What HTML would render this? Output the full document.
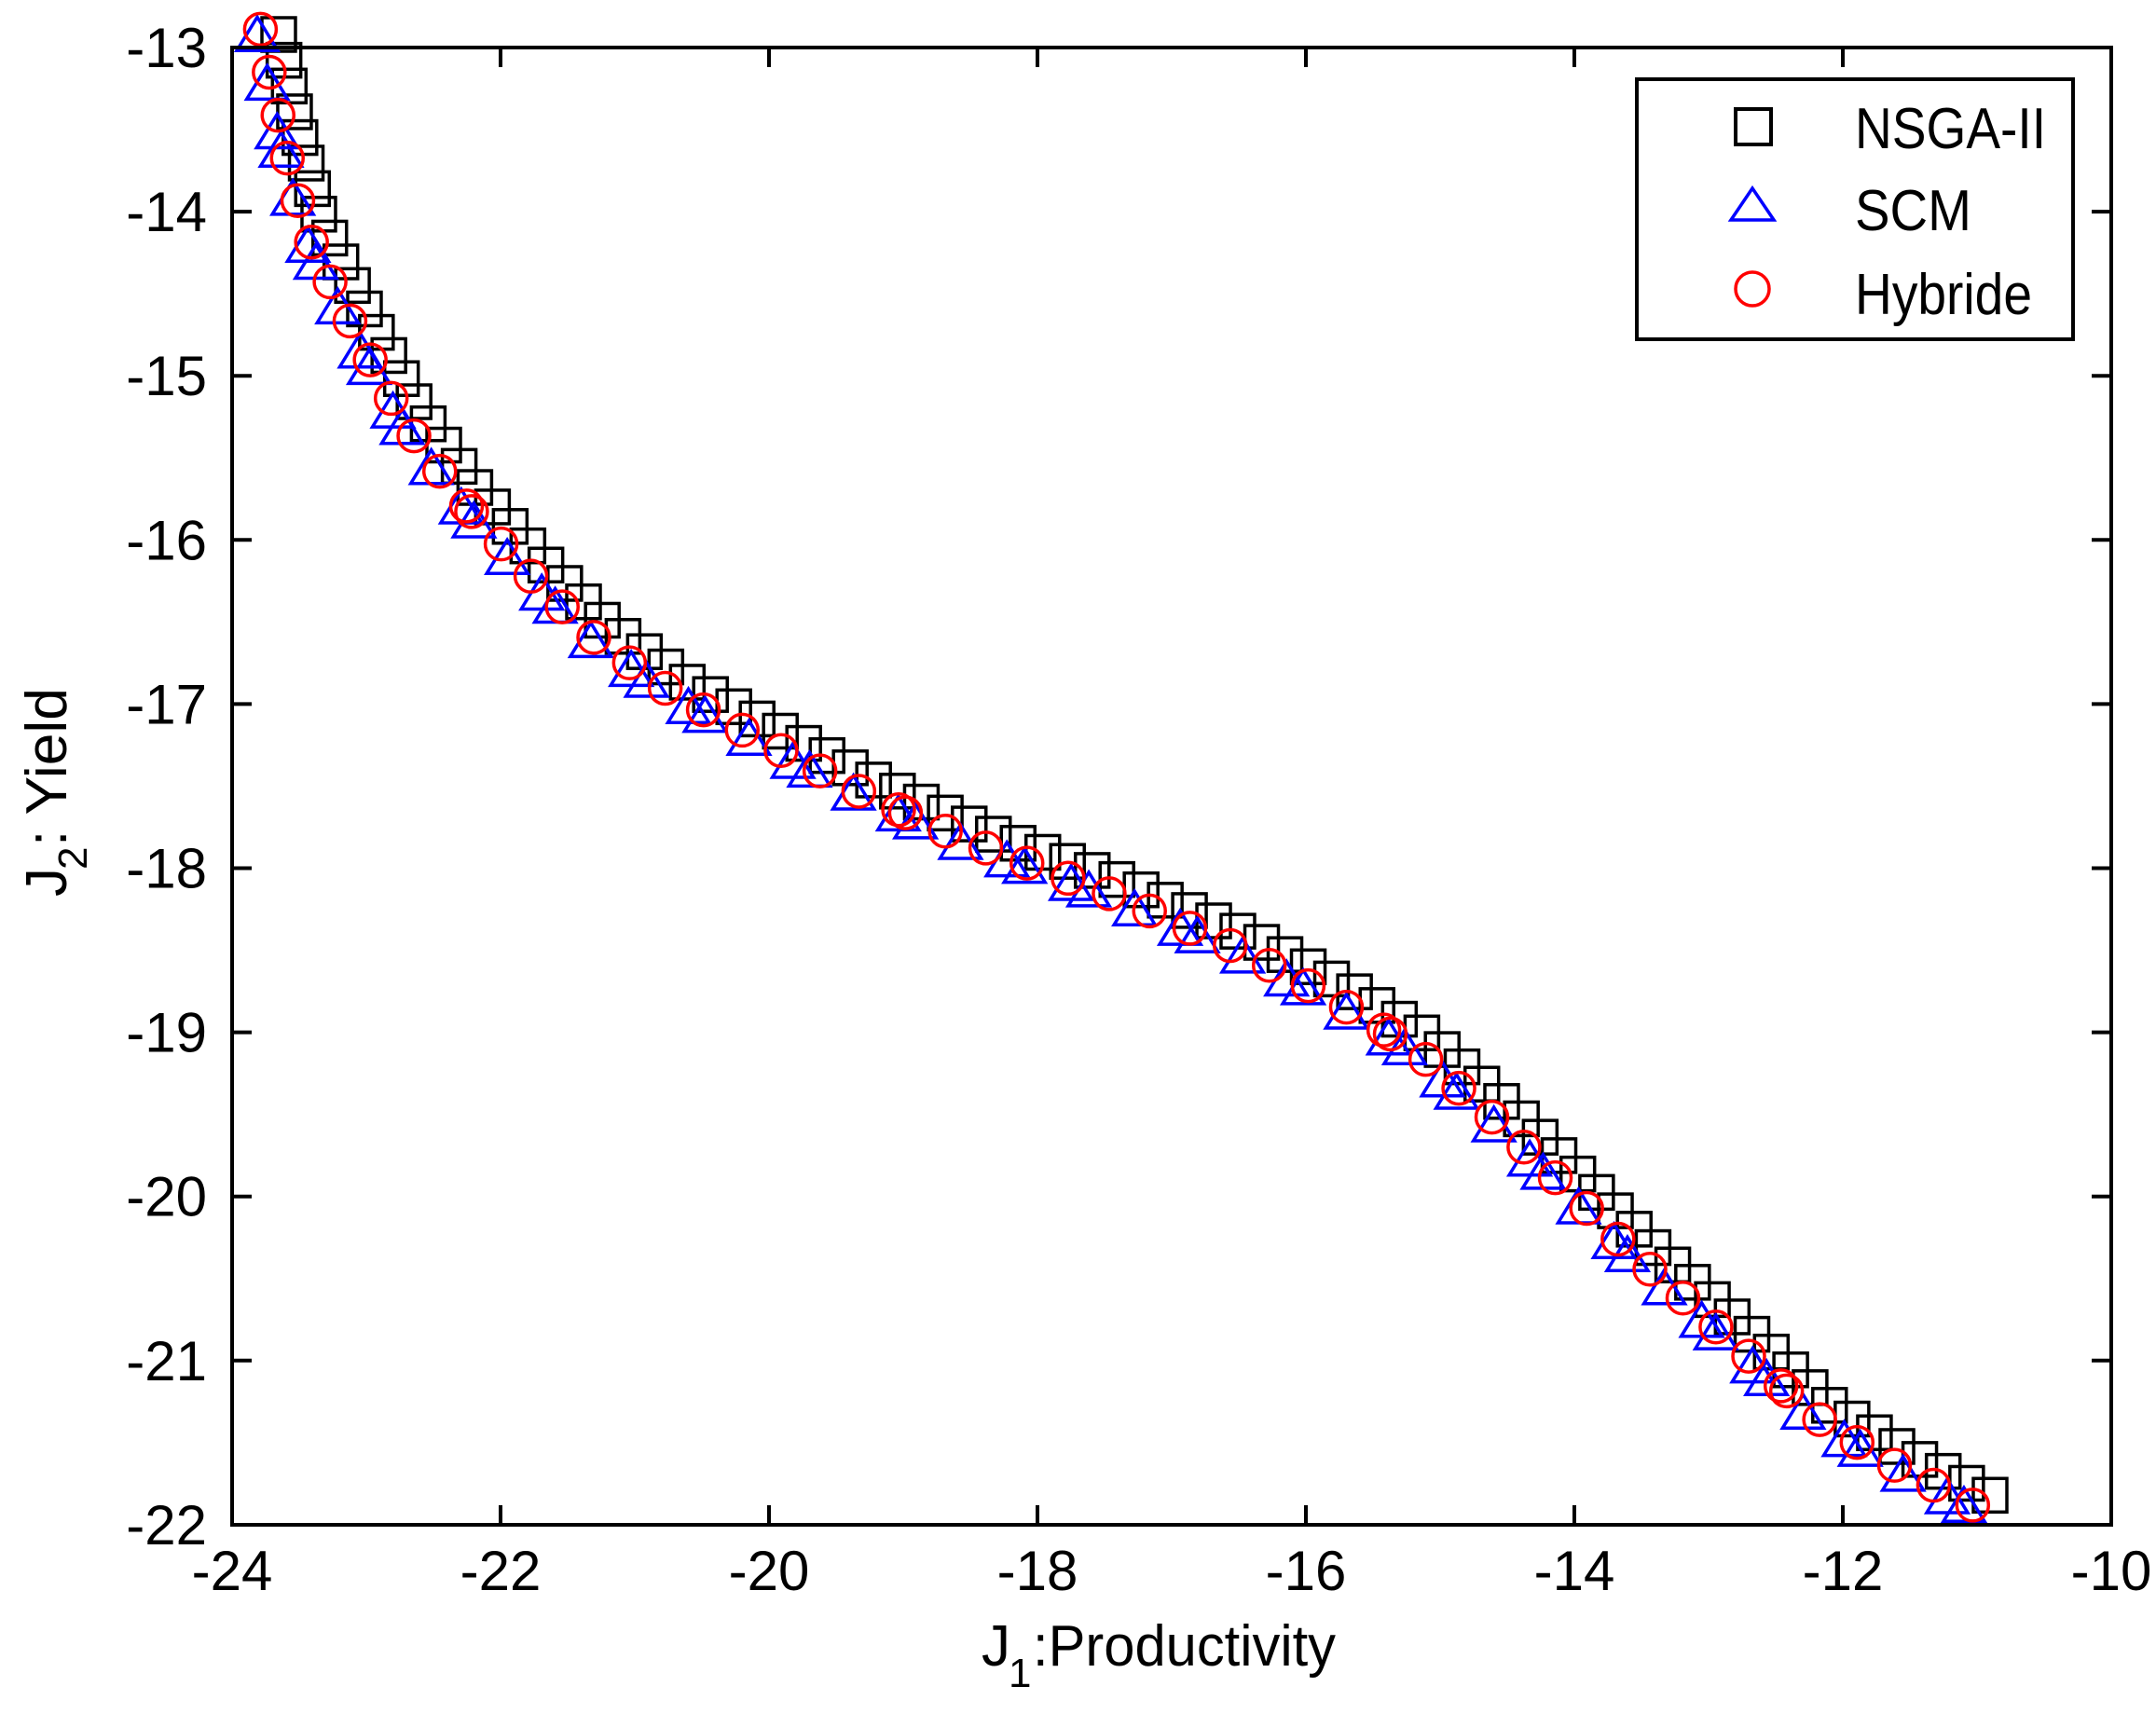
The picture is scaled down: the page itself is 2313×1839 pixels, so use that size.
<!DOCTYPE html>
<html><head><meta charset="utf-8"><style>
html,body{margin:0;padding:0;background:#fff;}
svg{display:block;}
text{font-family:"Liberation Sans",sans-serif;fill:#000;}
</style></head><body>
<svg id="s" width="2313" height="1839" viewBox="0 0 2313 1839" xmlns="http://www.w3.org/2000/svg">
<rect width="2313" height="1839" fill="#fff"/>
<g id="marks"></g>
<rect x="249" y="51" width="2016" height="1585" fill="none" stroke="#000" stroke-width="4"/>
<g id="ticks" stroke="#000" stroke-width="4"></g>
<g id="labels" font-size="60"></g>
<text x="1053" y="1787" font-size="62">J</text>
<text x="1082" y="1810" font-size="44">1</text>
<text x="1108" y="1787" font-size="62" textLength="325" lengthAdjust="spacingAndGlyphs">:Productivity</text>
<g transform="translate(71,850) rotate(-90)">
<text x="-112" y="0" font-size="62">J</text>
<text x="-83" y="22" font-size="44">2</text>
<text x="-58" y="0" font-size="62" textLength="170" lengthAdjust="spacingAndGlyphs">: Yield</text>
</g>
<rect x="1756" y="85" width="468" height="279" fill="#fff" stroke="#000" stroke-width="4"/>
<rect x="1862" y="117" width="38" height="38" fill="none" stroke="#000" stroke-width="4"/>
<polygon points="1880,202 1857,236 1903,236" fill="none" stroke="#00f" stroke-width="3.5"/>
<circle cx="1880" cy="310" r="18" fill="none" stroke="#f00" stroke-width="3.5"/>
<text x="1990" y="159" font-size="62" textLength="205" lengthAdjust="spacingAndGlyphs">NSGA-II</text>
<text x="1990" y="247" font-size="62" textLength="125" lengthAdjust="spacingAndGlyphs">SCM</text>
<text x="1990" y="337" font-size="62" textLength="190" lengthAdjust="spacingAndGlyphs">Hybride</text>
</svg>
<script>
var NS="http://www.w3.org/2000/svg";
function X(v){return 249+(v+24)*144;}
function Y(v){return 51+(-13-v)*176.1;}
function el(t,a,p){var e=document.createElementNS(NS,t);for(var k in a)e.setAttribute(k,a[k]);p.appendChild(e);return e;}
var tk=document.getElementById('ticks'),lb=document.getElementById('labels');
for(var v=-24;v<=-10;v+=2){var x=X(v);
 if(v>-24&&v<-10){el('line',{x1:x,y1:1636,x2:x,y2:1615},tk);el('line',{x1:x,y1:51,x2:x,y2:72},tk);}
 var t=el('text',{x:x,y:1706,'text-anchor':'middle'},lb);t.textContent=v;}
for(var v=-13;v>=-22;v--){var y=Y(v);
 if(v>-22&&v<-13){el('line',{x1:249,y1:y,x2:270,y2:y},tk);el('line',{x1:2265,y1:y,x2:2244,y2:y},tk);}
 var t=el('text',{x:222,y:y+21,'text-anchor':'end'},lb);t.textContent=v;}
var C=[[-23.75,-13.0],[-23.6,-13.6],[-23.45,-14.1],[-23.25,-14.45],[-23.0,-14.85],[-22.7,-15.3],[-22.3,-15.75],[-21.8,-16.2],[-21.3,-16.6],[-20.7,-16.95],[-20.0,-17.25],[-19.3,-17.55],[-18.5,-17.85],[-17.5,-18.15],[-16.5,-18.5],[-15.8,-18.8],[-15.2,-19.1],[-14.5,-19.6],[-14.0,-20.0],[-13.5,-20.4],[-12.8,-20.9],[-12.2,-21.35],[-11.6,-21.65],[-11.0,-21.9]];
var P=C.map(function(c){return [X(c[0]),Y(c[1])];});
var L=[0];for(var i=1;i<P.length;i++)L.push(L[i-1]+Math.hypot(P[i][0]-P[i-1][0],P[i][1]-P[i-1][1]));
var T=L[L.length-1];
function at(s){for(var i=1;i<P.length;i++)if(s<=L[i]){var f=(s-L[i-1])/(L[i]-L[i-1]);return [P[i-1][0]+f*(P[i][0]-P[i-1][0]),P[i-1][1]+f*(P[i][1]-P[i-1][1])];}return P[P.length-1];}
var g=document.getElementById('marks');
var n=90;for(var i=0;i<n;i++){var p=at(T*i/(n-1));el('rect',{x:p[0]+14-18,y:p[1]-14-18,width:36,height:36,fill:'none',stroke:'#000','stroke-width':3.5},g);}
n=62;for(var i=0;i<n;i++){var p=at(T*i/(n-1)+((i*37)%11-5)*3);var cx=p[0]-6,cy=p[1]+4;el('polygon',{points:cx+','+(cy-22)+' '+(cx-22)+','+(cy+14)+' '+(cx+22)+','+(cy+14),fill:'none',stroke:'#00f','stroke-width':3.5},g);}
n=58;for(var i=0;i<n;i++){var p=at(T*i/(n-1)+((i*53)%13-6)*3);el('circle',{cx:p[0]-2,cy:p[1]-2,r:17,fill:'none',stroke:'#f00','stroke-width':3.5},g);}
</script>
</body></html>
